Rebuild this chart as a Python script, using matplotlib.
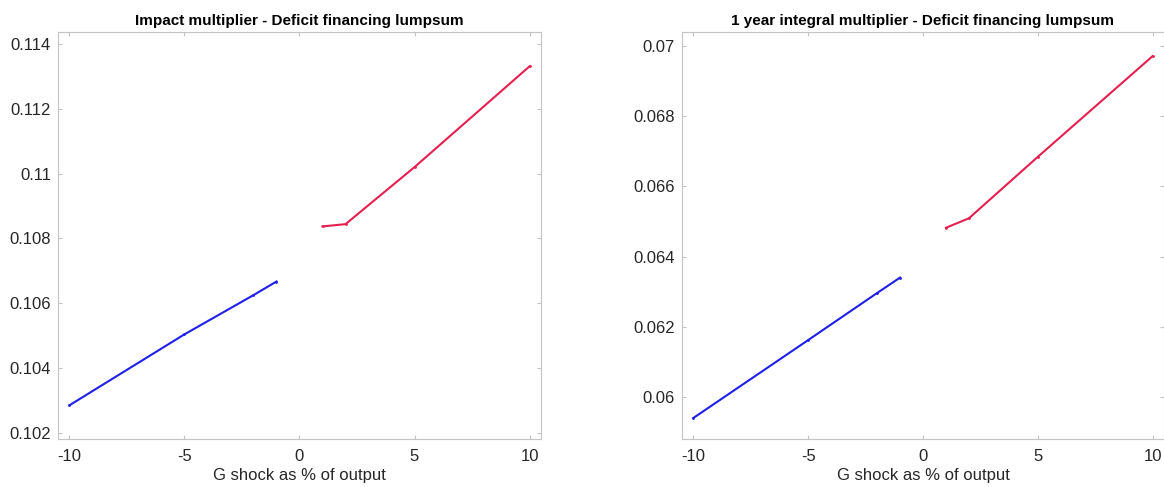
import numpy as np
import matplotlib
matplotlib.use("Agg")
import matplotlib.pyplot as plt
from matplotlib.ticker import FuncFormatter

plt.rcParams['font.family'] = ['Liberation Sans', 'DejaVu Sans']
plt.rcParams['axes.unicode_minus'] = False

# G shock sizes (% of output)
x_neg = [-10, -5, -2, -1]
x_pos = [1, 2, 5, 10]

# impact multiplier
impact_neg = [0.10285, 0.10504, 0.10625, 0.10667]
impact_pos = [0.10837, 0.10844, 0.11020, 0.11331]

# 1 year integral multiplier
integral_neg = [0.05940, 0.06162, 0.06296, 0.06340]
integral_pos = [0.06482, 0.06509, 0.06684, 0.06971]

titles = ["Impact multiplier - Deficit financing lumpsum",
          "1 year integral multiplier - Deficit financing lumpsum"]
xticks = [-10, -5, 0, 5, 10]
yticks_left = [0.102, 0.104, 0.106, 0.108, 0.110, 0.112, 0.114]
yticks_right = [0.060, 0.062, 0.064, 0.066, 0.068, 0.070]

blue = '#1f1fe8'
red = '#e3204f'
spine_col = '#c4c4c4'
text_col = '#262626'

fig = plt.figure(figsize=(11.64, 4.87), dpi=100)
ax1 = fig.add_axes([0.0498, 0.0986, 0.415, 0.8357])
ax2 = fig.add_axes([0.5859, 0.0986, 0.4141, 0.8357])

def style(ax, title, yticks, ylim):
    ax.set_xlim(-10.5, 10.5)
    ax.set_ylim(*ylim)
    ax.set_xticks(xticks)
    ax.set_yticks(yticks)
    ax.yaxis.set_major_formatter(FuncFormatter(lambda v, p: '%g' % round(v, 6)))
    ax.tick_params(direction='in', top=True, right=True, length=3,
                   color=spine_col, labelsize=12, labelcolor=text_col)
    ax.tick_params(axis='y', pad=5)
    ax.tick_params(axis='x', pad=7)
    for s in ax.spines.values():
        s.set_color(spine_col)
        s.set_linewidth(0.8)
    ax.set_title(title, fontsize=11, fontweight='bold', color='black', pad=5)
    ax.set_xlabel('G shock as % of output', fontsize=12, color=text_col, labelpad=3)

ax1.plot(x_neg, impact_neg, color=blue, lw=1.5, marker='.', ms=2)
ax1.plot(x_pos, impact_pos, color=red, lw=1.5, marker='.', ms=2)
style(ax1, titles[0], yticks_left, (0.10181, 0.11437))

ax2.plot(x_neg, integral_neg, color=blue, lw=1.5, marker='.', ms=2)
ax2.plot(x_pos, integral_pos, color=red, lw=1.5, marker='.', ms=2)
style(ax2, titles[1], yticks_right, (0.0588, 0.0704))

fig.savefig('out.png', dpi=100)
